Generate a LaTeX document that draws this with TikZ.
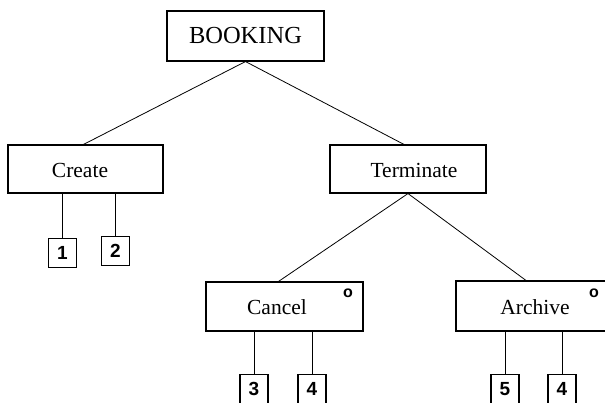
\documentclass[tikz,border=0pt]{standalone}
\usepackage{fontspec}
\setmainfont{Liberation Serif}
\newfontfamily\numfont{Liberation Sans}
\begin{document}
\begin{tikzpicture}[x=1pt,y=-1pt,
  opbox/.style={draw,line width=1.1pt,inner sep=0pt,font=\fontsize{21.5}{23}\selectfont},
  optext/.style={inner sep=0pt,font=\fontsize{21.5}{23}\selectfont},
  numbox/.style={draw,line width=1.1pt,inner sep=0pt,minimum width=28pt,minimum height=29pt,font=\numfont\bfseries\fontsize{19}{20}\selectfont},
  link/.style={line width=0.8pt},
  cornermark/.style={font=\numfont\bfseries\fontsize{16}{17}\selectfont,inner sep=0pt}]
\useasboundingbox (0,0) rectangle (605,403);
\clip (0,0) rectangle (605,403);
% boxes
\node[opbox,minimum width=157pt,minimum height=50pt,font=\fontsize{24.5}{26}\selectfont] (booking) at (245.5,36) {BOOKING};
\node[opbox,minimum width=155pt,minimum height=48pt] (create) at (85.5,169) {};
\node[optext] (createtxt) at (80,170) {Create};
\node[opbox,minimum width=156pt,minimum height=48pt] (terminate) at (408,169) {};
\node[optext] (terminatetxt) at (414,170) {Terminate};
\node[opbox,minimum width=157pt,minimum height=49pt] (cancel) at (284.5,306.5) {};
\node[optext] (canceltxt) at (277,307) {Cancel};
\node[cornermark] (cancelmark) at (348,293) {o};
\node[opbox,minimum width=160pt,minimum height=50pt] (archive) at (536,306) {};
\node[optext] (archivetxt) at (535,307) {Archive};
\node[cornermark] (archivemark) at (594,293) {o};
% number boxes
\node[numbox] (n1) at (62.5,253) {1};
\node[numbox] (n2) at (115.5,251) {2};
\node[numbox] (n3) at (254,389) {3};
\node[numbox] (n4a) at (312,389) {4};
\node[numbox] (n5) at (505,389) {5};
\node[numbox] (n4b) at (562,389) {4};
% connectors
\draw[link] (booking.south) -- ([xshift=-2pt]create.north);
\draw[link] (booking.south) -- ([xshift=-4pt]terminate.north);
\draw[link] (terminate.south) -- ([xshift=-6pt]cancel.north);
\draw[link] (terminate.south) -- ([xshift=-10pt]archive.north);
\draw[link] (n1.north) -- (n1.north |- create.south);
\draw[link] (n2.north) -- (n2.north |- create.south);
\draw[link] (n3.north) -- (n3.north |- cancel.south);
\draw[link] (n4a.north) -- (n4a.north |- cancel.south);
\draw[link] (n5.north) -- (n5.north |- archive.south);
\draw[link] (n4b.north) -- (n4b.north |- archive.south);
\end{tikzpicture}
\end{document}
